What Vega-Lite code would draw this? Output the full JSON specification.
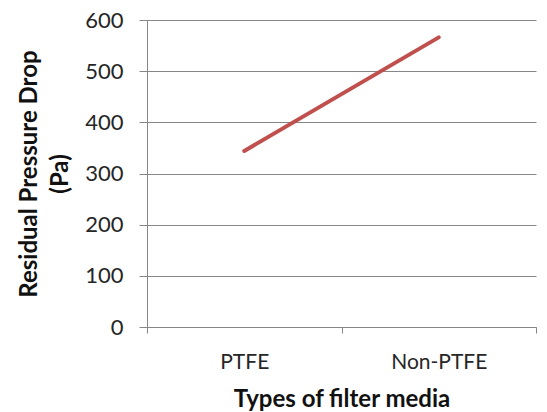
{
  "$schema": "https://vega.github.io/schema/vega-lite/v6.json",
  "width": 389,
  "height": 307,
  "autosize": "none",
  "padding": {"left": 147, "top": 20, "right": 11, "bottom": 85},
  "background": "white",
  "config": {"view": {"stroke": null}, "font": "Lato"},
  "data": {"values": [
    {"media": "PTFE", "drop": 344},
    {"media": "Non-PTFE", "drop": 566}
  ]},
  "mark": {"type": "line", "color": "#c0504d", "strokeWidth": 4, "strokeCap": "round"},
  "encoding": {
    "x": {
      "field": "media", "type": "nominal", "sort": ["PTFE", "Non-PTFE"],
      "scale": {"type": "band", "paddingInner": 0, "paddingOuter": 0},
      "axis": {
        "title": "Types of filter media", "labelAngle": 0, "tickBand": "extent",
        "domainColor": "#868686", "tickColor": "#868686", "tickSize": 6,
        "labelFont": "Lato", "labelFontSize": 21, "labelColor": "#262626", "labelPadding": 18,
        "titleFont": "Lato", "titleFontSize": 24, "titleFontWeight": "bold", "titleColor": "#111111", "titlePadding": 15
      }
    },
    "y": {
      "field": "drop", "type": "quantitative",
      "scale": {"domain": [0, 600]},
      "axis": {
        "title": ["Residual Pressure Drop", "(Pa)"], "values": [0, 100, 200, 300, 400, 500, 600],
        "grid": true, "gridColor": "#868686", "gridWidth": 1,
        "domainColor": "#868686", "tickColor": "#868686", "tickSize": 8,
        "labelFont": "Lato", "labelFontSize": 22, "labelColor": "#262626", "labelPadding": 16,
        "titleFont": "Lato", "titleFontSize": 24, "titleFontWeight": "bold", "titleColor": "#111111",
        "titlePadding": 12, "titleLineHeight": 31
      }
    }
  }
}
